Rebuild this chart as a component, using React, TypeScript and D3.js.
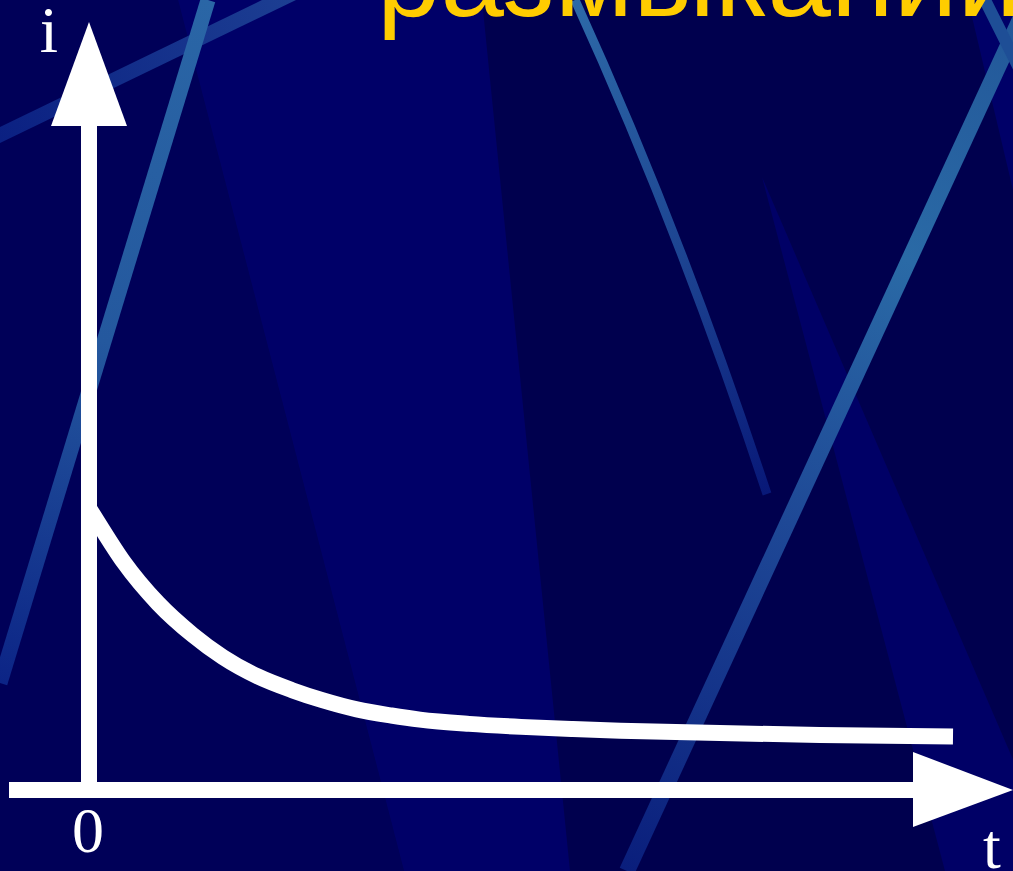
import React, { useEffect, useRef } from "react";
import * as d3 from "d3";

// current after the circuit is opened
const timeValues = [0, 0.1, 0.4, 0.8, 1.2, 1.55, 1.95, 2.35, 2.7, 3.1, 3.5, 3.83, 4.4, 5.0, 5.6, 6.15, 7.3, 8.46, 10];
const currentValues = [
  3.67, 3.49, 2.97, 2.43, 2.02, 1.73, 1.48, 1.3, 1.17, 1.05, 0.97, 0.917, 0.861, 0.822, 0.794, 0.773, 0.741, 0.717, 0.697,
];

const titleText = "размыкании";
const yLabel = "i";
const xLabel = "t";
const originLabel = "0";

const width = 1013;
const height = 871;

export default function App() {
  const svgRef = useRef<SVGSVGElement>(null);

  useEffect(() => {
    const svg = d3.select(svgRef.current);
    svg.selectAll("*").remove();

    const x = d3.scaleLinear().domain([0, 10]).range([89, 953]);
    const y = d3.scaleLinear().domain([0, 10]).range([790, 22]);

    const defs = svg.append("defs");
    const grad = (id: string, x1: number, y1: number, x2: number, y2: number, stops: [number, string][]) => {
      const g = defs.append("linearGradient")
        .attr("id", id)
        .attr("gradientUnits", "userSpaceOnUse")
        .attr("x1", x1).attr("y1", y1).attr("x2", x2).attr("y2", y2);
      stops.forEach(([o, c]) => g.append("stop").attr("offset", o).attr("stop-color", c));
    };
    grad("band", 0, 140, 290, 0, [[0, "#0b2082"], [1, "#1c3e92"]]);
    grad("s2", 208, 0, 0, 683, [[0, "#2a66a6"], [0.5, "#24589e"], [1, "#0c2486"]]);
    grad("s3", 575, 0, 767, 494, [[0, "#2d6aa8"], [0.6, "#1a3e8e"], [1, "#081878"]]);
    grad("s4", 1029, 0, 627, 871, [[0, "#225698"], [0.3, "#2a6aa6"], [0.6, "#1e4896"], [1, "#0a1e7c"]]);

    // background
    const bg = svg.append("g");
    bg.append("rect").attr("width", width).attr("height", height).attr("fill", "#00004e");
    const poly = (pts: number[][], fill: string) =>
      bg.append("polygon").attr("points", pts.map((p) => p.join(",")).join(" ")).attr("fill", fill);
    poly([[0, 0], [178, 0], [404, 871], [0, 871]], "#000058");
    poly([[178, 0], [482, 0], [570, 871], [404, 871]], "#000068");
    poly([[762, 177], [945, 871], [1061, 871]], "#000066");
    poly([[968, 0], [1013, 0], [1013, 190]], "#000068");
    poly([[0, 127], [262, 0], [296, 0], [0, 143]], "url(#band)");

    bg.append("line").attr("x1", 208).attr("y1", 0).attr("x2", 0).attr("y2", 683)
      .attr("stroke", "url(#s2)").attr("stroke-width", 15);
    bg.append("path").attr("d", "M575,0 Q680,230 767,494")
      .attr("fill", "none").attr("stroke", "url(#s3)").attr("stroke-width", 9);
    bg.append("line").attr("x1", 1029).attr("y1", 0).attr("x2", 627).attr("y2", 871)
      .attr("stroke", "url(#s4)").attr("stroke-width", 16);
    bg.append("line").attr("x1", 985).attr("y1", 0).attr("x2", 1030).attr("y2", 90)
      .attr("stroke", "#1e4e96").attr("stroke-width", 12);

    // title (cut off by the top edge)
    svg.append("text")
      .attr("x", 377).attr("y", 16)
      .attr("font-family", "Liberation Sans, Arial, sans-serif")
      .attr("font-size", 114)
      .attr("fill", "#ffcc00")
      .text(titleText);

    // axes with arrows
    const axes = svg.append("g").attr("fill", "#ffffff");
    const x0 = x(0);
    const y0 = y(0);
    axes.append("rect").attr("x", x0 - 8).attr("y", 126).attr("width", 16).attr("height", y0 + 8 - 126);
    axes.append("polygon").attr("points", `${x0 - 38},126 ${x0 + 38},126 ${x0},${y(10)}`);
    axes.append("rect").attr("x", 9).attr("y", y0 - 8).attr("width", 913 - 9).attr("height", 16);
    axes.append("polygon").attr("points", `913,${y0 - 38} 913,${y0 + 37} 1013,${y0}`);

    // curve
    const line = d3.line<number>()
      .x((_, i) => x(timeValues[i]))
      .y((d) => y(d))
      .curve(d3.curveMonotoneX);
    svg.append("path")
      .datum(currentValues)
      .attr("fill", "none")
      .attr("stroke", "#ffffff")
      .attr("stroke-width", 16)
      .attr("d", line);

    // labels
    const serif = "Liberation Serif, Times New Roman, serif";
    svg.append("text").attr("x", 49).attr("y", 52).attr("text-anchor", "middle")
      .attr("font-family", serif).attr("font-size", 66).attr("fill", "#ffffff").text(yLabel);
    svg.append("text").attr("x", x0 - 1).attr("y", 852).attr("text-anchor", "middle")
      .attr("font-family", serif).attr("font-size", 64).attr("fill", "#ffffff").text(originLabel);
    svg.append("text").attr("x", 992).attr("y", 868).attr("text-anchor", "middle")
      .attr("font-family", serif).attr("font-size", 64).attr("fill", "#ffffff").text(xLabel);
  }, []);

  return (
    <svg
      ref={svgRef}
      width={width}
      height={height}
      style={{ position: "absolute", left: 0, top: 0, display: "block" }}
    />
  );
}
